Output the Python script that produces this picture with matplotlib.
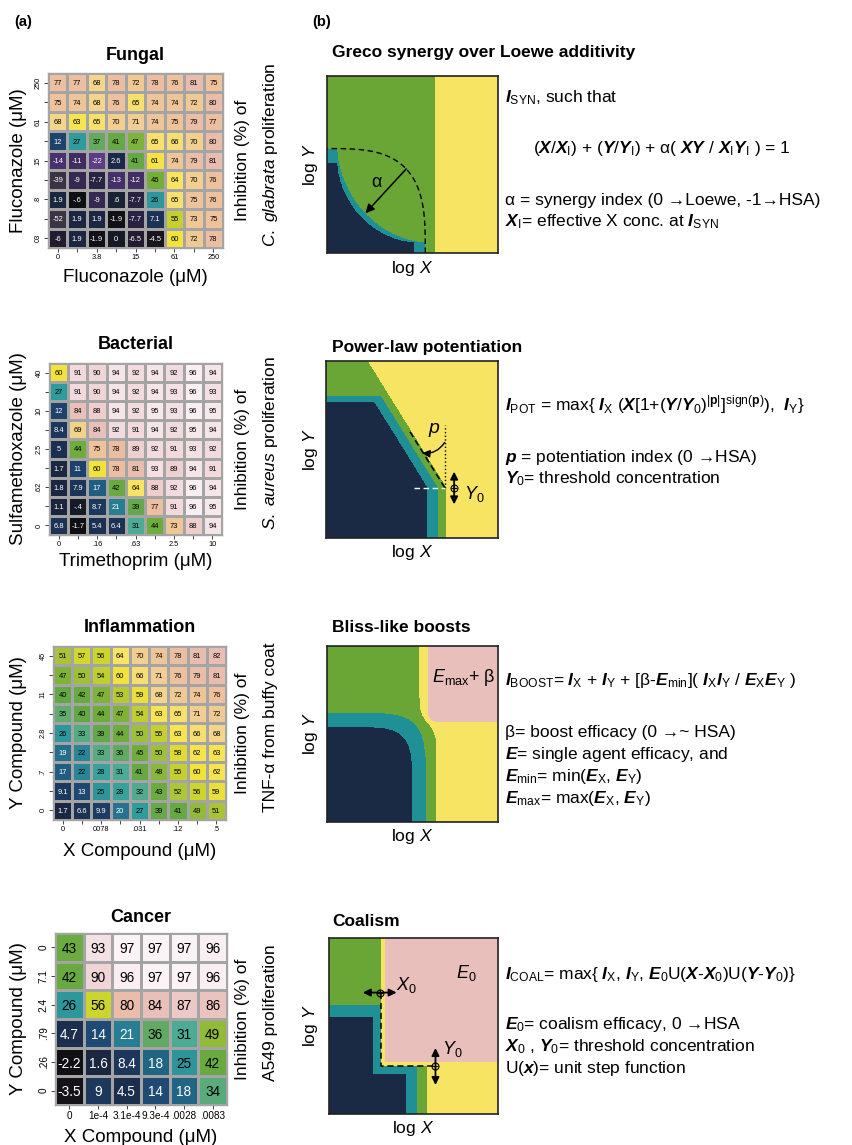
import numpy as np
import matplotlib
matplotlib.use('Agg')
import matplotlib.pyplot as plt
from matplotlib.colors import LinearSegmentedColormap, ListedColormap, Normalize

plt.rcParams['font.family'] = ['Liberation Sans', 'DejaVu Sans']
plt.rcParams['mathtext.fontset'] = 'custom'
plt.rcParams['mathtext.rm'] = 'Liberation Sans'
plt.rcParams['mathtext.it'] = 'Liberation Sans:italic'
plt.rcParams['mathtext.bf'] = 'Liberation Sans:bold'
plt.rcParams['mathtext.bfit'] = 'Liberation Sans:italic:bold'
plt.rcParams['mathtext.sf'] = 'Liberation Sans'

W, H = 852, 1145

# ---------------- panel (a) data ----------------
FUNGAL = [
    [77, 77, 68, 78, 72, 78, 76, 81, 75],
    [75, 74, 68, 76, 65, 74, 74, 72, 80],
    [68, 63, 65, 70, 71, 74, 75, 79, 77],
    [12, 27, 37, 41, 47, 65, 66, 70, 80],
    [-14, -11, -22, 2.6, 41, 61, 74, 79, 81],
    [-39, -9, -7.7, -13, -12, 46, 64, 70, 76],
    [1.9, -0.6, -9, 0.6, -7.7, 26, 65, 75, 76],
    [-52, 1.9, 1.9, -1.9, -7.7, 7.1, 55, 73, 75],
    [-6, 1.9, -1.9, 0, -6.5, -4.5, 60, 72, 78],
]
FUNGAL_X = ["0", "", "3.8", "", "15", "", "61", "", "250"]
FUNGAL_Y = ["250", "", "61", "", "15", "", ".8", "", "03"]

BACTERIAL = [
    [60, 91, 90, 94, 92, 94, 92, 96, 94],
    [27, 91, 90, 94, 92, 94, 93, 96, 93],
    [12, 84, 88, 94, 92, 95, 93, 96, 95],
    [8.4, 69, 84, 92, 91, 94, 92, 95, 94],
    [5, 44, 75, 78, 89, 92, 91, 93, 92],
    [1.7, 11, 60, 78, 81, 93, 89, 94, 91],
    [1.8, 7.9, 17, 42, 64, 88, 92, 96, 94],
    [1.1, -0.4, 8.7, 21, 39, 77, 91, 96, 95],
    [6.8, -1.7, 5.4, 6.4, 31, 44, 73, 88, 94],
]
BACTERIAL_X = ["0", "", ".16", "", ".63", "", "2.5", "", "10"]
BACTERIAL_Y = ["40", "", "10", "", "2.5", "", ".62", "", "0"]

INFLAM = [
    [51, 57, 56, 64, 70, 74, 78, 81, 82],
    [47, 50, 54, 60, 66, 71, 76, 79, 81],
    [40, 42, 47, 53, 59, 68, 72, 74, 76],
    [35, 40, 44, 47, 54, 63, 65, 71, 72],
    [26, 33, 39, 44, 50, 55, 63, 66, 68],
    [19, 22, 33, 36, 45, 50, 58, 62, 63],
    [17, 22, 28, 31, 41, 48, 55, 60, 62],
    [9.1, 13, 25, 28, 32, 43, 52, 56, 59],
    [1.7, 6.6, 9.9, 20, 27, 39, 41, 49, 51],
]
INFLAM_X = ["0", "", "0078", "", ".031", "", ".12", "", ".5"]
INFLAM_Y = ["45", "", "11", "", "2.8", "", ".7", "", "0"]

CANCER = [
    [43, 93, 97, 97, 97, 96],
    [42, 90, 96, 97, 97, 96],
    [26, 56, 80, 84, 87, 86],
    [4.7, 14, 21, 36, 31, 49],
    [-2.2, 1.6, 8.4, 18, 25, 42],
    [-3.5, 9, 4.5, 14, 18, 34],
]
CANCER_X = ["0", "1e-4", "3.1e-4", "9.3e-4", ".0028", ".0083"]
CANCER_Y = ["0", "7.1", "2.4", ".79", ".26", "0"]

# inhibition colour scale (value, colour)
HEAT_STOPS = [
    (-55, '#3b3441'), (-35, '#3b3146'), (-22, '#5c3c86'), (-15, '#4a3272'),
    (-11, '#3e2d5e'), (-8, '#2d2446'), (-5, '#1a1620'), (-1, '#0d0d10'),
    (0, '#19202f'), (2, '#1b2946'), (6, '#1b3152'), (10, '#1c3c62'),
    (14, '#1e4b75'), (18, '#216585'), (22, '#298596'), (27, '#2f9c9c'),
    (31, '#4aab98'), (35, '#62ab6e'), (40, '#64a845'), (46, '#72ae38'),
    (51, '#a6c23a'), (56, '#cad42c'), (60, '#f2e23c'), (64, '#f8e55e'),
    (68, '#f4d68a'), (72, '#f0ca94'), (77, '#ecbf9e'), (81, '#e8bcad'),
    (86, '#eac3c0'), (90, '#f0d4d6'), (94, '#f4e2e6'), (97, '#fbf2f5'),
    (100, '#fdf9fb'),
]
VMIN, VMAX = HEAT_STOPS[0][0], HEAT_STOPS[-1][0]
HEAT_CMAP = LinearSegmentedColormap.from_list(
    'inhib', [((v - VMIN) / (VMAX - VMIN), c) for v, c in HEAT_STOPS])
HEAT_NORM = Normalize(VMIN, VMAX)
GRID_GRAY = '#a4a4a4'

# ---------------- panel (b) model parameters ----------------
# levels: 0 navy, 1 teal, 2 green, 3 yellow, 4 pink
SCHEME_COLORS = ['#1b2a44', '#1f9096', '#6aa635', '#f7e463', '#e8bfbb']
SCHEME_CMAP = ListedColormap(SCHEME_COLORS)

GRECO_NAVY = (0.51, 0.51)
GRECO_TEAL = (0.575, 0.59)
GRECO_P = 0.6
GRECO_ZERO = 0.06
GRECO_X_YELLOW = 0.63
GRECO_LOEWE_P = 3.2

POT_Y0 = 0.285
POT_SLOPE = 0.64
POT_X_CUTS = [0.59, 0.65, 0.70]
POT_Y_CUTS = [0.77, 0.80]

BLISS_NAVY = (0.50, 0.54)
BLISS_TEAL = (0.58, 0.62)
BLISS_Q = 6
BLISS_YEL_BOTTOM, BLISS_YEL_TOP, BLISS_BEND = 0.64, 0.54, 0.56
BLISS_PINK = (0.59, 0.57)
BLISS_PINK_R = 0.05

COAL_X_CUTS = [0.455, 0.52, 0.58]
COAL_Y_CUTS = [0.55, 0.62]
COAL_X0, COAL_Y0 = 0.31, 0.275
COAL_BAND = 0.05
COAL_EDGE = 0.02

fig = plt.figure(figsize=(W / 100, H / 100), dpi=100)


def px_axes(x0, y0, x1, y1):
    return fig.add_axes([x0 / W, 1 - y1 / H, (x1 - x0) / W, (y1 - y0) / H])


def ftext(x, y, s, **kw):
    kw.setdefault('va', 'center')
    return fig.text(x / W, 1 - y / H, s, **kw)


def fmt(v):
    s = f"{v:g}"
    if s.startswith(("0.", "-0.")):
        s = s.replace("0.", ".", 1)
    return s


def draw_heatmap(box, values, xt, yt, cell_fs, tick_fs):
    ax = px_axes(*box)
    data = np.asarray(values, dtype=float)
    nr, nc = data.shape
    ax.pcolormesh(np.arange(nc + 1), np.arange(nr + 1), data, cmap=HEAT_CMAP,
                  norm=HEAT_NORM, edgecolors=GRID_GRAY, linewidth=0.9)
    ax.set_xlim(0, nc)
    ax.set_ylim(nr, 0)
    for i in range(nr):
        for j in range(nc):
            v = data[i, j]
            ax.text(j + 0.5, i + 0.5, fmt(v), ha='center', va='center_baseline',
                    fontsize=cell_fs, color='white' if v < 22 else 'black')
    ax.set_xticks(np.arange(nc) + 0.5, labels=xt)
    ax.set_yticks(np.arange(nr) + 0.5, labels=yt, rotation=90, va='center')
    ax.tick_params(length=3, width=0.7, pad=1.5, labelsize=tick_fs, color='#444444')
    for s in ax.spines.values():
        s.set_color(GRID_GRAY)
        s.set_linewidth(1)
    return ax


# ---------------- panel (a) ----------------
ftext(23, 22, "(a)", ha='center', fontsize=10.5, fontweight='bold')
ftext(322, 22, "(b)", ha='center', fontsize=10.5, fontweight='bold')

heat_panels = [
    ((48, 73, 223, 248), FUNGAL, FUNGAL_X, FUNGAL_Y, 5.4, 5.3,
     "Fungal", "Fluconazole (μM)", "Fluconazole (μM)",
     r"$C.\ glabrata$ proliferation", 55, 278),
    ((49, 363, 222, 535), BACTERIAL, BACTERIAL_X, BACTERIAL_Y, 5.4, 5.3,
     "Bacterial", "Sulfamethoxazole (μM)", "Trimethoprim (μM)",
     r"$S.\ aureus$ proliferation", 345, 562),
    ((53, 646, 226, 820), INFLAM, INFLAM_X, INFLAM_Y, 5.4, 5.3,
     "Inflammation", "Y Compound (μM)", "X Compound (μM)",
     "TNF-α from buffy coat", 627, 852),
    ((55, 933, 227, 1105), CANCER, CANCER_X, CANCER_Y, 9.8, 7.2,
     "Cancer", "Y Compound (μM)", "X Compound (μM)",
     "A549 proliferation", 918, 1137),
]
for box, vals, xt, yt, cfs, tfs, title, ylab, xlab, sub, ty, xy in heat_panels:
    draw_heatmap(box, vals, xt, yt, cfs, tfs)
    cx = (box[0] + box[2]) / 2
    cy = (box[1] + box[3]) / 2
    ftext(cx, ty, title, ha='center', fontsize=13, fontweight='bold')
    ftext(cx, xy, xlab, ha='center', fontsize=13.5)
    ftext(19, cy, ylab, ha='center', rotation=90, fontsize=13.5)
    ftext(243, cy, "Inhibition (%) of", ha='center', rotation=90, fontsize=12.5)
    ftext(271, cy - 6, sub, ha='center', rotation=90, fontsize=12.5)

# ---------------- panel (b) ----------------
N = 600
grid = (np.arange(N) + 0.5) / N
U, V = np.meshgrid(grid, grid)


def scheme_axes(box):
    ax = px_axes(*box)
    ax.set_xlim(0, 1)
    ax.set_ylim(0, 1)
    ax.set_xticks([])
    ax.set_yticks([])
    for s in ax.spines.values():
        s.set_linewidth(1.2)
        s.set_color('#222222')
    cx = (box[0] + box[2]) / 2
    cy = (box[1] + box[3]) / 2
    ftext(310, cy, r"log $Y$", ha='center', rotation=90, fontsize=12.5)
    ftext(cx, box[3] + 15, r"log $X$", ha='center', fontsize=12.5)
    return ax


def show_levels(ax, level):
    ax.imshow(level, cmap=SCHEME_CMAP, vmin=-0.5, vmax=4.5, origin='lower',
              extent=(0, 1, 0, 1), interpolation='nearest', aspect='auto', zorder=0)


def dbl_arrow(ax, p0, p1):
    ax.annotate('', xy=p1, xytext=p0,
                arrowprops=dict(arrowstyle='<|-|>', color='k', lw=1.3,
                                mutation_scale=11, shrinkA=0, shrinkB=0))
    mid = ((p0[0] + p1[0]) / 2, (p0[1] + p1[1]) / 2)
    ax.plot(*mid, 'o', ms=5, mfc='none', mec='k', mew=0.8)
    ax.plot(*mid, '+', ms=5, color='k', mew=0.8)


TEXT_X = 505
TFS = 12.5

# Greco synergy
ftext(332, 52, "Greco synergy over Loewe additivity", fontsize=12.5, fontweight='bold')
ax = scheme_axes((327, 76, 498, 253))


def greco_iso(u, v, ab):
    a, b = ab
    s = GRECO_ZERO
    return ((np.clip(u - s, 0, None) / (a - s)) ** GRECO_P
            + (np.clip(v - s, 0, None) / (b - s)) ** GRECO_P)


lvl = np.full(U.shape, 2)
lvl[greco_iso(U, V, GRECO_TEAL) < 1] = 1
lvl[greco_iso(U, V, GRECO_NAVY) < 1] = 0
lvl[U > GRECO_X_YELLOW] = 3
show_levels(ax, lvl)
t = np.linspace(0, np.pi / 2, 300)
ax.plot(GRECO_TEAL[0] * np.cos(t) ** (2 / GRECO_LOEWE_P),
        GRECO_TEAL[1] * np.sin(t) ** (2 / GRECO_LOEWE_P), 'k--', lw=1, dashes=(4, 2.5))
k = 0.5 ** (1 / GRECO_LOEWE_P)
diag = np.linspace(0, 1, 4001)
tip = diag[np.argmax(greco_iso(diag, diag, GRECO_TEAL) >= 1)]
ax.annotate('', xy=(tip, tip), xytext=(GRECO_TEAL[0] * k, GRECO_TEAL[1] * k),
            arrowprops=dict(arrowstyle='-|>', color='k', lw=1.1, mutation_scale=13,
                            shrinkA=0, shrinkB=0))
ax.text(0.29, 0.40, "α", fontsize=13, ha='center', va='center')

ftext(TEXT_X, 98, r"$\mathbfit{I}_{\rm SYN}$, such that", fontsize=TFS)
ftext(662, 149, r"($\mathbfit{X}$/$\mathbfit{X}_{\rm I}$) + ($\mathbfit{Y}$/$\mathbfit{Y}_{\rm I}$)"
      r" + α( $\mathbfit{XY}$ / $\mathbfit{X}_{\rm I}\mathbfit{Y}_{\rm I}$ ) = 1",
      ha='center', fontsize=TFS)
ftext(TEXT_X, 201, "α = synergy index (0 →Loewe, -1→HSA)", fontsize=TFS)
ftext(TEXT_X, 222, r"$\mathbfit{X}_{\rm I}$= effective X conc. at $\mathbfit{I}_{\rm SYN}$",
      fontsize=TFS)

# Power-law potentiation
ftext(332, 347, "Power-law potentiation", fontsize=12.5, fontweight='bold')
ax = scheme_axes((326, 361, 498, 538))
u_eff = U + POT_SLOPE * np.clip(V - POT_Y0, 0, None)
lvl = np.maximum(np.digitize(u_eff, POT_X_CUTS), np.digitize(V, POT_Y_CUTS))
show_levels(ax, lvl)
u_line = POT_X_CUTS[2] - 0.01
vv = np.array([POT_Y0, 0.60])
ax.plot(u_line - POT_SLOPE * (vv - POT_Y0), vv, 'k--', lw=1.1, dashes=(4, 2.5))
ax.plot([u_line, u_line], [POT_Y0, 0.64], 'k:', lw=1)
ax.plot([0.51, u_line], [POT_Y0, POT_Y0], '--', color='white', lw=1, dashes=(4, 2.5))
ax.annotate('', xy=(0.56, 0.48), xytext=(u_line, 0.54),
            arrowprops=dict(arrowstyle='-|>', color='k', lw=1, mutation_scale=11,
                            shrinkA=0, shrinkB=0, connectionstyle='arc3,rad=-0.3'))
ax.text(0.63, 0.61, r"$p$", fontsize=14, ha='center', va='center')
dbl_arrow(ax, (0.745, 0.375), (0.745, 0.19))
ax.text(0.86, 0.25, r"$Y_0$", fontsize=13, ha='center', va='center')

ftext(TEXT_X, 405, r"$\mathbfit{I}_{\rm POT}$ = max{ $\mathbfit{I}_{\rm X}$ "
      r"($\mathbfit{X}$[1+($\mathbfit{Y}$/$\mathbfit{Y}_0$)$^{|\mathbf{p}|}$]$^{\rm sign(\mathbf{p})}$),  "
      r"$\mathbfit{I}_{\rm Y}$}", fontsize=TFS)
ftext(TEXT_X, 457, r"$\mathbfit{p}$ = potentiation index (0 →HSA)", fontsize=TFS)
ftext(TEXT_X, 479, r"$\mathbfit{Y}_0$= threshold concentration", fontsize=TFS)

# Bliss-like boosts
ftext(332, 628, "Bliss-like boosts", fontsize=12.5, fontweight='bold')
ax = scheme_axes((327, 646, 498, 822))
lvl = np.full(U.shape, 2)
edge = BLISS_YEL_TOP + (BLISS_YEL_BOTTOM - BLISS_YEL_TOP) / (1 + np.exp((V - BLISS_BEND) / 0.03))
lvl[U > edge] = 3
pu, pv = BLISS_PINK
r = BLISS_PINK_R
corner = np.hypot(np.clip(pu + r - U, 0, None), np.clip(pv + r - V, 0, None))
lvl[(U > pu) & (V > pv) & (corner < r)] = 4
lvl[(U / BLISS_TEAL[0]) ** BLISS_Q + (V / BLISS_TEAL[1]) ** BLISS_Q < 1] = 1
lvl[(U / BLISS_NAVY[0]) ** BLISS_Q + (V / BLISS_NAVY[1]) ** BLISS_Q < 1] = 0
show_levels(ax, lvl)
ax.text(0.80, 0.82, r"$E_{\rm max}$+ β", fontsize=13, ha='center', va='center')

ftext(TEXT_X, 681, r"$\mathbfit{I}_{\rm BOOST}$= $\mathbfit{I}_{\rm X}$ + $\mathbfit{I}_{\rm Y}$ + "
      r"[β-$\mathbfit{E}_{\rm min}$]( $\mathbfit{I}_{\rm X}\mathbfit{I}_{\rm Y}$ / "
      r"$\mathbfit{E}_{\rm X}\mathbfit{E}_{\rm Y}$ )", fontsize=TFS)
ftext(TEXT_X, 733, "β= boost efficacy (0 →~ HSA)", fontsize=TFS)
ftext(TEXT_X, 754, r"$\mathbfit{E}$= single agent efficacy, and", fontsize=TFS)
ftext(TEXT_X, 776, r"$\mathbfit{E}_{\rm min}$= min($\mathbfit{E}_{\rm X}$, $\mathbfit{E}_{\rm Y}$)",
      fontsize=TFS)
ftext(TEXT_X, 798, r"$\mathbfit{E}_{\rm max}$= max($\mathbfit{E}_{\rm X}$, $\mathbfit{E}_{\rm Y}$)",
      fontsize=TFS)

# Coalism
ftext(332, 921, "Coalism", fontsize=12.5, fontweight='bold')
ax = scheme_axes((329, 938, 498, 1114))
d = np.minimum(U - COAL_X0, V - COAL_Y0)
coal = np.select([d >= COAL_EDGE, d >= 0, d >= -COAL_BAND], [4, 3, 1], default=0)
lvl = np.maximum.reduce([np.digitize(U, COAL_X_CUTS), np.digitize(V, COAL_Y_CUTS), coal])
show_levels(ax, lvl)
ax.plot([COAL_X0 - 0.005, COAL_X0 - 0.005, 0.63], [0.69, COAL_Y0 - 0.005, COAL_Y0 - 0.005],
        'k--', lw=1.1, dashes=(4, 2.5))
dbl_arrow(ax, (0.20, 0.69), (0.40, 0.69))
dbl_arrow(ax, (0.63, 0.375), (0.63, 0.165))
ax.text(0.456, 0.735, r"$X_0$", fontsize=13, ha='center', va='center')
ax.text(0.73, 0.37, r"$Y_0$", fontsize=13, ha='center', va='center')
ax.text(0.81, 0.80, r"$E_0$", fontsize=13, ha='center', va='center')

ftext(TEXT_X, 975, r"$\mathbfit{I}_{\rm COAL}$= max{ $\mathbfit{I}_{\rm X}$, $\mathbfit{I}_{\rm Y}$, "
      r"$\mathbfit{E}_0$U($\mathbfit{X}$-$\mathbfit{X}_0$)U($\mathbfit{Y}$-$\mathbfit{Y}_0$)}",
      fontsize=TFS)
ftext(TEXT_X, 1025, r"$\mathbfit{E}_0$= coalism efficacy, 0 →HSA", fontsize=TFS)
ftext(TEXT_X, 1047, r"$\mathbfit{X}_0$ , $\mathbfit{Y}_0$= threshold concentration", fontsize=TFS)
ftext(TEXT_X, 1069, r"U($\mathbfit{x}$)= unit step function", fontsize=TFS)

fig.savefig('out.png', dpi=100, facecolor='white')
